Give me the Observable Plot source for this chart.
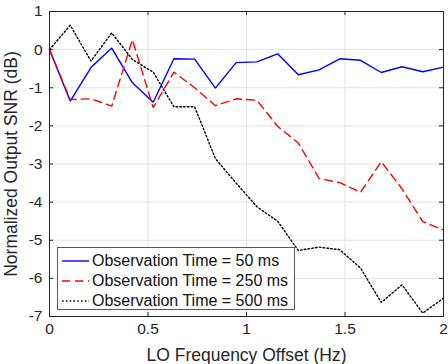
<!DOCTYPE html>
<html>
<head>
<meta charset="utf-8">
<script src="https://cdn.jsdelivr.net/npm/d3@7"></script>
<script src="https://cdn.jsdelivr.net/npm/@observablehq/plot@0.6"></script>
<style>
  body { margin: 0; background: #fff; }
  #wrap { position: relative; width: 448px; height: 364px; font-family: "Liberation Sans", Arial, Helvetica, sans-serif; color: #262626; }
  #legend { position: absolute; left: 57px; top: 247px; width: 238px; height: 63px; box-sizing: border-box; border: 1px solid #5a5a5a; background: #fff; }
  .row { position: absolute; left: 0; height: 20px; display: flex; align-items: center; font-size: 16px; color: #111; white-space: nowrap; }
  .row svg { margin-left: 4px; margin-right: 3px; }
</style>
</head>
<body>
<div id="wrap"></div>
<script>
// ---- data ----
const freq = d3.range(20).map(i => i * 2 / 19); // sample frequencies (Hz), evenly spaced 0..2
const snr50  = [0, -1.35, -0.47, 0.04, -0.87, -1.38, -0.24, -0.25, -1.01, -0.34, -0.32, -0.11, -0.66, -0.53, -0.24, -0.28, -0.60, -0.45, -0.58, -0.46];
const snr250 = [0, -1.31, -1.29, -1.48, 0.26, -1.52, -0.59, -1.00, -1.47, -1.29, -1.33, -2.01, -2.45, -3.38, -3.49, -3.74, -2.94, -3.65, -4.51, -4.73];
const snr500 = [0, 0.64, -0.30, 0.44, -0.26, -0.59, -1.50, -1.50, -2.86, -3.50, -4.12, -4.50, -5.27, -5.18, -5.25, -5.73, -6.63, -6.17, -6.91, -6.52];
const seriesNames = ["Observation Time = 50 ms", "Observation Time = 250 ms", "Observation Time = 500 ms"];
const xTicks = [0, 0.5, 1, 1.5, 2];
const yTicks = [-7, -6, -5, -4, -3, -2, -1, 0, 1];
const xLabel = "LO Frequency Offset (Hz)";
const yLabel = "Normalized Output SNR (dB)";

// ---- styles ----
const styles = [
  {stroke: "#0000ff", dash: null},
  {stroke: "#ff0000", dash: "8,5"},
  {stroke: "#000000", dash: "1.6,2.2"}
];
const series = [snr50, snr250, snr500];

const W = 448, H = 364, mL = 49, mR = 5, mT = 11, mB = 48;
const pw = W - mL - mR, ph = H - mT - mB;
const tickLen = 4;
const axisColor = "#262626";

const lineMarks = series.map((vals, k) => Plot.line(
  freq.map((f, i) => ({f, v: vals[i]})),
  {x: "f", y: "v", stroke: styles[k].stroke, strokeWidth: 1.4, strokeDasharray: styles[k].dash, strokeLinejoin: "miter"}
));

const chart = Plot.plot({
  width: W, height: H,
  marginLeft: mL, marginRight: mR, marginTop: mT, marginBottom: mB,
  style: {fontFamily: '"Liberation Sans", Arial, Helvetica, sans-serif', fontSize: "15.5px", color: axisColor, background: "white"},
  x: {domain: [0, 2]},
  y: {domain: [-7, 1]},
  marks: [
    Plot.ruleX(xTicks, {x: d => d, stroke: "#e2e2e2", strokeWidth: 1}),
    Plot.ruleY(yTicks, {y: d => d, stroke: "#e2e2e2", strokeWidth: 1}),
    ...lineMarks,
    Plot.frame({stroke: axisColor, strokeWidth: 1}),
    Plot.ruleX(xTicks, {x: d => d, stroke: axisColor, insetTop: ph - tickLen}),
    Plot.ruleX(xTicks, {x: d => d, stroke: axisColor, insetBottom: ph - tickLen}),
    Plot.ruleY(yTicks, {y: d => d, stroke: axisColor, insetRight: pw - tickLen}),
    Plot.ruleY(yTicks, {y: d => d, stroke: axisColor, insetLeft: pw - tickLen}),
    Plot.axisX(xTicks, {tickSize: 0, tickPadding: 6, tickFormat: d => String(d), label: xLabel, labelAnchor: "center", labelOffset: 44, labelArrow: "none"}),
    Plot.axisY(yTicks, {tickSize: 0, tickPadding: 7, tickFormat: d => String(d), label: yLabel, labelAnchor: "center", labelOffset: 45, labelArrow: "none"})
  ]
});
chart.querySelectorAll('[aria-label="x-axis label"], [aria-label="y-axis label"]').forEach(g => g.setAttribute("font-size", "17.5"));

const wrap = document.getElementById("wrap");
wrap.appendChild(chart);

// ---- legend ----
const legend = document.createElement("div");
legend.id = "legend";
seriesNames.forEach((name, k) => {
  const row = document.createElement("div");
  row.className = "row";
  row.style.top = (3 + 20 * k) + "px";
  const ns = "http://www.w3.org/2000/svg";
  const s = document.createElementNS(ns, "svg");
  s.setAttribute("width", 27); s.setAttribute("height", 4);
  const ln = document.createElementNS(ns, "line");
  ln.setAttribute("x1", 0); ln.setAttribute("x2", 27); ln.setAttribute("y1", 2); ln.setAttribute("y2", 2);
  ln.setAttribute("stroke", styles[k].stroke); ln.setAttribute("stroke-width", 1.4);
  if (styles[k].dash) ln.setAttribute("stroke-dasharray", styles[k].dash);
  s.appendChild(ln);
  row.appendChild(s);
  const t = document.createElement("span");
  t.textContent = name;
  row.appendChild(t);
  legend.appendChild(row);
});
wrap.appendChild(legend);
</script>
</body>
</html>
